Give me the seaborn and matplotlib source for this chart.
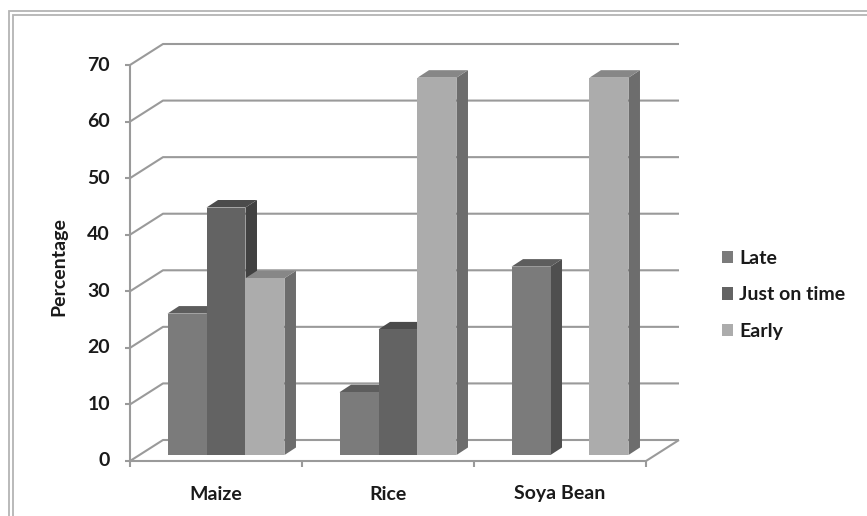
import numpy as np
import pandas as pd
import matplotlib
matplotlib.use("Agg")
import matplotlib.pyplot as plt
from matplotlib.patches import Polygon, Rectangle, Patch
from matplotlib.lines import Line2D
import seaborn as sns

# ---- data -------------------------------------------------------------
crops = ["Maize", "Rice", "Soya Bean"]
timing = ["Late", "Just on time", "Early"]
late = [25.0, 11.1, 33.3]
just_on_time = [43.75, 22.2, 0.0]
early = [31.25, 66.7, 66.7]
y_ticks = [0, 10, 20, 30, 40, 50, 60, 70]
y_label = "Percentage"

df = pd.DataFrame({
    "Crop": crops * 3,
    "Timing": np.repeat(timing, len(crops)),
    "Percentage": late + just_on_time + early,
})

# face shading for each series: front, top, side
front_colors = ["#7b7b7b", "#636363", "#acacac"]
top_colors = ["#5d5d5d", "#4b4b4b", "#878787"]
side_colors = ["#4f4f4f", "#414141", "#6d6d6d"]

# ---- style ------------------------------------------------------------
sns.set_style("white")
plt.rcParams["font.family"] = ["Lato", "DejaVu Sans"]
plt.rcParams["font.weight"] = "bold"

FS = 14
TXT = "#1a1a1a"

W, H = 867, 516
fig = plt.figure(figsize=(W / 100, H / 100), dpi=100)
fig.patch.set_facecolor("white")

# double frame around the chart area
frame_col = "#b4b4b4"
for (x0, y0) in [(8.5, 10.5), (13, 14.5)]:
    fig.patches.append(Rectangle((x0 / W, -0.1), 1.2, 1 - y0 / H + 0.1,
                                 transform=fig.transFigure, fill=False,
                                 edgecolor=frame_col, linewidth=1.3))

# axes sits on the plane of the bar fronts
ax = fig.add_axes([140 / W, 61 / H, 516 / W, 396 / H])
sns.barplot(data=df, x="Crop", y="Percentage", hue="Timing", order=crops,
            hue_order=timing, palette=front_colors, saturation=1, width=0.68,
            linewidth=0, legend=False, ax=ax)
ax.set_xlim(-0.5, len(crops) - 0.5)
ax.set_ylim(y_ticks[0], y_ticks[-1])
ax.set_axis_off()

# pixel -> data unit conversion for the depth offsets
p0 = ax.transData.transform((0, 0))
p1 = ax.transData.transform((1, 1))
sx, sy = p1[0] - p0[0], p1[1] - p0[1]


def shift(x, y, dpx):
    return (x + dpx[0] / sx, y + dpx[1] / sy)


FRONT = (-10, -6)      # front edge of the floor
BACK = (23, 15)        # back wall
DEPTH = (11.5, 7.5)    # depth of each bar

grid_col = "#9a9a9a"
glw = 1.5
xl, xr = -0.5, len(crops) - 0.5


def seg(pts, z=1, **kw):
    xs, ys = zip(*pts)
    ax.add_line(Line2D(xs, ys, color=kw.get("color", grid_col),
                       linewidth=kw.get("lw", glw), zorder=z, clip_on=False,
                       solid_capstyle="butt"))


# back wall gridlines and side wall diagonals
for v in y_ticks:
    seg([shift(xl, v, FRONT), shift(xl, v, BACK), shift(xr, v, BACK)])
    # tick marks on the value axis
    seg([shift(xl, v, (FRONT[0] - 5, FRONT[1])), shift(xl, v, FRONT)])
    ax.text(*shift(xl, v, (FRONT[0] - 20, FRONT[1])), f"{v}",
            ha="right", va="center", fontsize=FS, fontweight="bold",
            color=TXT)

# floor
seg([shift(xl, 0, FRONT), shift(xr, 0, FRONT), shift(xr, 0, BACK)])
# value axis
seg([shift(xl, y_ticks[0], FRONT), shift(xl, y_ticks[-1], FRONT)])
# category ticks and labels
for k in range(len(crops) + 1):
    seg([shift(k - 0.5, 0, FRONT), shift(k - 0.5, 0, (FRONT[0], FRONT[1] - 6))])
for k, c in enumerate(crops):
    ax.text(*shift(k, 0, (FRONT[0], FRONT[1] - 33)), c, ha="center",
            va="center", fontsize=FS, fontweight="bold", color=TXT)

ax.text(*shift(xl, 35, (FRONT[0] - 71, FRONT[1] - 4)), y_label, rotation=90,
        ha="center", va="center", fontsize=FS, fontweight="bold", color=TXT)

# 3-D bar faces: tops and right-hand sides, built from the drawn bars
bars = []
for i, cont in enumerate(ax.containers):
    for rect in cont.patches:
        bars.append((rect.get_x(), i, rect))
bars.sort(key=lambda b: b[0])
z = 2
for x0, i, rect in bars:
    w, h = rect.get_width(), rect.get_height()
    if h <= 0:
        rect.set_visible(False)
        continue
    side = [(x0 + w, 0), (x0 + w, h), shift(x0 + w, h, DEPTH),
            shift(x0 + w, 0, DEPTH)]
    top = [(x0, h), (x0 + w, h), shift(x0 + w, h, DEPTH), shift(x0, h, DEPTH)]
    ax.add_patch(Polygon(side, closed=True, facecolor=side_colors[i],
                         edgecolor="none", zorder=z, clip_on=False))
    ax.add_patch(Polygon(top, closed=True, facecolor=top_colors[i],
                         edgecolor="none", zorder=z + 1, clip_on=False))
    rect.set_zorder(z + 2)
    rect.set_clip_on(False)
    z += 3

handles = [Patch(facecolor=c, edgecolor="none", label=t)
           for t, c in zip(timing, front_colors)]
fig.legend(handles=handles, loc="center left",
           bbox_to_anchor=(712 / W, 1 - 295 / H), frameon=False,
           borderpad=0, handlelength=0.6, handleheight=0.6,
           handletextpad=0.3, labelspacing=1.0,
           prop={"size": FS, "weight": "bold"}, labelcolor=TXT)

fig.savefig("out.png", dpi=100)
